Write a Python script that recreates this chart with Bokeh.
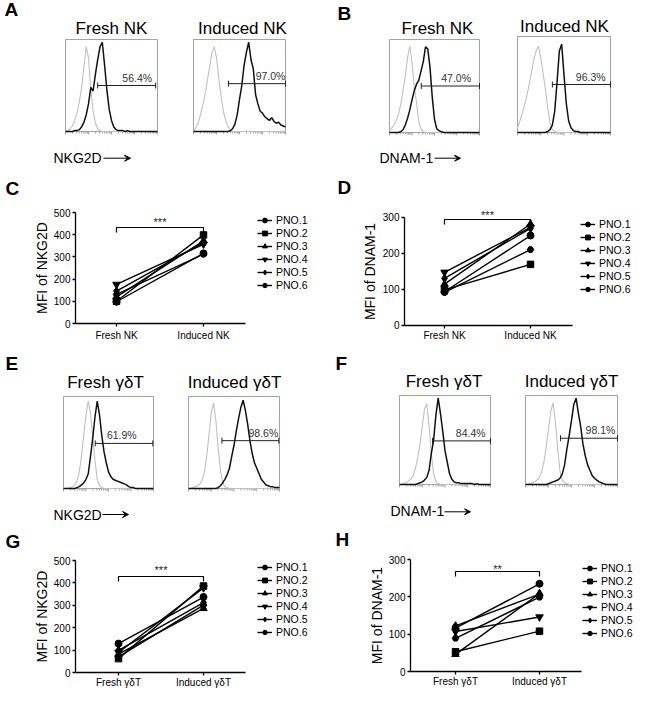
import numpy as np
from bokeh.plotting import figure
from bokeh.models import Range1d, FixedTicker, Legend, LegendItem, Arrow, VeeHead, LinearAxis
from bokeh.layouts import row, column
from bokeh.embed import file_html
from bokeh.resources import INLINE
from bokeh.core.properties import value

FONT = "Liberation Sans"

# ======================= DATA =======================
# flow-cytometry histogram channels (log10 fluorescence, decades)
hist_bins = [0.0, 0.1, 0.2, 0.3, 0.4, 0.5, 0.6, 0.7, 0.8, 0.9,
             1.0, 1.1, 1.2, 1.3, 1.4, 1.5, 1.6, 1.7, 1.8, 1.9,
             2.0, 2.1, 2.2, 2.3, 2.4, 2.5, 2.6, 2.7, 2.8, 2.9,
             3.0, 3.1, 3.2, 3.3, 3.4, 3.5, 3.6, 3.7, 3.8, 3.9,
             4.0]

# A: NKG2D on NK cells (isotype = grey, stained = black), % of max
A_fresh_iso = [0, 1, 3, 6, 12, 20, 32, 48, 70, 92,
               80, 46, 22, 9, 3, 1, 0, 0, 0, 0,
               0, 0, 0, 0, 0, 0, 0, 0, 0, 0,
               0, 0, 0, 0, 0, 0, 0, 0, 0, 0,
               0]
A_fresh_stain = [0, 0, 0, 0, 1, 1, 2, 5, 10, 18,
                 30, 48, 44, 62, 78, 92, 97, 72, 45, 24,
                 12, 5, 2, 1, 1, 1, 0, 1, 0, 0,
                 0, 0, 0, 0, 0, 0, 0, 0, 0, 0,
                 0]
A_induced_iso = [0, 4, 9, 18, 28, 40, 55, 70, 86, 92,
                 80, 58, 38, 22, 12, 5, 2, 0, 0, 0,
                 0, 0, 0, 0, 0, 0, 0, 0, 0, 0,
                 0, 0, 0, 0, 0, 0, 0, 0, 0, 0,
                 0]
A_induced_stain = [0, 0, 0, 0, 0, 0, 0, 0, 0, 0,
                   0, 0, 0, 0, 0, 0, 1, 3, 8, 18,
                   35, 50, 72, 86, 97, 78, 68, 40, 30, 22,
                   20, 16, 14, 12, 15, 11, 9, 10, 7, 6,
                   5]
# B: DNAM-1 on NK cells
B_fresh_iso = [2, 5, 8, 13, 20, 30, 45, 60, 80, 93,
               75, 50, 32, 12, 4, 1, 0, 0, 0, 0,
               0, 0, 0, 0, 0, 0, 0, 0, 0, 0,
               0, 0, 0, 0, 0, 0, 0, 0, 0, 0,
               0]
B_fresh_stain = [0, 0, 0, 0, 0, 1, 3, 8, 15, 24,
                 35, 45, 52, 56, 66, 76, 92, 90, 70, 38,
                 14, 4, 2, 1, 0, 0, 0, 0, 0, 0,
                 0, 0, 0, 0, 0, 0, 0, 0, 0, 0,
                 0]
B_induced_iso = [5, 12, 20, 28, 38, 50, 62, 76, 85, 90,
                 78, 62, 45, 25, 10, 3, 1, 0, 0, 0,
                 0, 0, 0, 0, 0, 0, 0, 0, 0, 0,
                 0, 0, 0, 0, 0, 0, 0, 0, 0, 0,
                 0]
B_induced_stain = [0, 0, 0, 0, 0, 0, 0, 0, 0, 0,
                   0, 0, 0, 1, 3, 8, 22, 52, 85, 92,
                   60, 30, 12, 5, 2, 1, 1, 0, 0, 0,
                   0, 0, 0, 0, 0, 0, 0, 0, 0, 0,
                   0]
# E: NKG2D on gamma-delta T cells
E_fresh_iso = [0, 0, 0, 1, 2, 4, 8, 18, 35, 58,
               80, 95, 82, 55, 30, 10, 3, 1, 0, 0,
               0, 0, 0, 0, 0, 0, 0, 0, 0, 0,
               0, 0, 0, 0, 0, 0, 0, 0, 0, 0,
               0]
E_fresh_stain = [0, 0, 0, 0, 0, 0, 1, 2, 4, 6,
                 10, 16, 35, 55, 78, 95, 80, 58, 40, 28,
                 18, 13, 10, 9, 8, 7, 6, 5, 4, 2,
                 1, 1, 0, 0, 0, 0, 0, 0, 0, 0,
                 0]
E_induced_iso = [0, 0, 1, 2, 3, 5, 9, 18, 35, 58,
                 82, 93, 75, 45, 20, 7, 2, 1, 0, 0,
                 0, 0, 0, 0, 0, 0, 0, 0, 0, 0,
                 0, 0, 0, 0, 0, 0, 0, 0, 0, 0,
                 0]
E_induced_stain = [0, 0, 0, 0, 0, 0, 0, 0, 0, 0,
                   0, 0, 0, 1, 3, 6, 10, 15, 22, 35,
                   47, 62, 76, 88, 96, 85, 70, 52, 38, 28,
                   22, 16, 10, 7, 4, 3, 2, 2, 1, 1,
                   1]
# F: DNAM-1 on gamma-delta T cells
F_fresh_iso = [0, 0, 1, 2, 4, 6, 10, 18, 30, 45,
               65, 85, 91, 65, 35, 12, 3, 1, 0, 0,
               0, 0, 0, 0, 0, 0, 0, 0, 0, 0,
               0, 0, 0, 0, 0, 0, 0, 0, 0, 0,
               0]
F_fresh_stain = [0, 0, 0, 0, 0, 0, 0, 0, 1, 2,
                 3, 5, 8, 16, 35, 50, 78, 97, 80, 60,
                 38, 25, 12, 6, 3, 2, 2, 1, 1, 1,
                 1, 1, 1, 0, 1, 0, 0, 0, 0, 0,
                 0]
F_induced_iso = [0, 0, 1, 2, 3, 5, 8, 14, 25, 42,
                 62, 82, 92, 70, 40, 15, 5, 2, 1, 0,
                 0, 0, 0, 0, 0, 0, 0, 0, 0, 0,
                 0, 0, 0, 0, 0, 0, 0, 0, 0, 0,
                 0]
F_induced_stain = [0, 0, 0, 0, 0, 0, 0, 0, 0, 0,
                   1, 2, 3, 4, 5, 7, 12, 22, 40, 55,
                   72, 90, 97, 80, 65, 45, 32, 22, 16, 10,
                   7, 5, 3, 2, 1, 0, 0, 0, 0, 0,
                   0]

# gates: (start decade, end decade, level in % of max) and gated percentages
A_gates = [(1.40, 3.92, 50), (1.52, 4.00, 52)]
A_pct = ["56.4%", "97.0%"]
B_gates = [(1.41, 4.00, 50), (1.50, 4.00, 50)]
B_pct = ["47.0%", "96.3%"]
E_gates = [(1.41, 3.97, 49), (1.47, 3.97, 52)]
E_pct = ["61.9%", "98.6%"]
F_gates = [(1.45, 4.00, 49), (1.52, 4.00, 52)]
F_pct = ["84.4%", "98.1%"]

nk_titles = ["Fresh NK", "Induced NK"]
gd_titles = ["Fresh \u03b3\u03b4T", "Induced \u03b3\u03b4T"]

# MFI per patient
patients = ["PNO.1", "PNO.2", "PNO.3", "PNO.4", "PNO.5", "PNO.6"]
C_fresh = [98, 100, 120, 176, 146, 131]
C_induced = [316, 399, 372, 357, 364, 312]
D_fresh = [93, 98, 114, 147, 130, 91]
D_induced = [249, 169, 281, 272, 269, 210]
G_fresh = [129, 62, 82, 89, 99, 70]
G_induced = [337, 386, 286, 378, 312, 301]
H_fresh = [116, 53, 46, 107, 122, 89]
H_induced = [235, 108, 209, 146, 207, 199]

nkg2d_yticks = [0, 100, 200, 300, 400, 500]
dnam_yticks = [0, 100, 200, 300]
C_sig, D_sig, G_sig, H_sig = "***", "***", "***", "**"

# ======================= STYLE / LAYOUT =======================
MARKERS = ["circle", "square", "triangle", "inverted_triangle", "diamond", "hex"]
MSIZES = [7, 6.5, 7.5, 7.5, 8.5, 6.5]
D_MIN, D_MAX, Y_MAX = 0.0, 4.0, 100.0
LOG_TICKS = [float(np.log10(m * 10 ** k)) for k in range(4) for m in range(1, 10)] + [4.0]
LOG_MAJOR = [0.0, 1.0, 2.0, 3.0, 4.0]


def add_text(p, x, y, s, size, bold=False, align="left", color="black", **kw):
    p.text(x=[x], y=[y], text=[s], text_font=value(FONT), text_font_size=size,
           text_font_style="bold" if bold else "normal", text_align=align,
           text_baseline="middle", text_color=color, **kw)


def bare_figure(W, H, xr, yr):
    p = figure(width=W, height=H, x_range=xr, y_range=yr,
               x_axis_location=None, y_axis_location=None,
               min_border_left=0, min_border_right=0, min_border_top=0, min_border_bottom=0,
               output_backend="svg", toolbar_location=None)
    p.outline_line_color = None
    p.grid.visible = False
    return p


def hist_block(W, H, letter, letter_pos, marker, marker_pos, arrow_span, boxes):
    p = bare_figure(W, H, Range1d(0, W), Range1d(H, 0))
    add_text(p, letter_pos[0], letter_pos[1], letter, "19px", bold=True)
    add_text(p, marker_pos[0], marker_pos[1], marker, "14px")
    p.add_layout(Arrow(end=VeeHead(size=6, fill_color="black", line_color="black", line_width=1),
                       x_start=arrow_span[0], y_start=arrow_span[2],
                       x_end=arrow_span[1], y_end=arrow_span[2],
                       line_color="black", line_width=1))
    n = len(hist_bins)
    for i, b in enumerate(boxes):
        x0, y0, x1, y1 = b["rect"]
        kx = (D_MAX - D_MIN) / (x1 - x0)
        ky = Y_MAX / (y1 - y0)
        xn, yn = f"bx{i}", f"by{i}"
        p.extra_x_ranges[xn] = Range1d(D_MIN - x0 * kx, D_MIN + (W - x0) * kx)
        p.extra_y_ranges[yn] = Range1d((y1 - H) * ky, y1 * ky)
        kw = dict(x_range_name=xn, y_range_name=yn)
        add_text(p, b["title_pos"][0], b["title_pos"][1], b["title"], "17px", align="center")
        p.quad(left=[D_MIN], right=[D_MAX], bottom=[0], top=[Y_MAX], fill_color=None,
               line_color="#a3a3a3", line_width=1, **kw)
        tl = [(-3 if t in LOG_MAJOR else -2) * ky for t in LOG_TICKS]
        p.segment(x0=LOG_TICKS, y0=[0] * len(LOG_TICKS), x1=LOG_TICKS, y1=tl,
                  line_color="#a3a3a3", line_width=1, **kw)
        iso = b["iso"][:n]
        st = b["stain"][:n]
        p.line(hist_bins[:len(iso)], iso, line_color="#c0c0c0", line_width=1.1, **kw)
        p.line(hist_bins[:len(st)], st, line_color="#111111", line_width=1.5, **kw)
        gs, ge, gl = b["gate"]
        h = 3 * ky
        p.segment(x0=[gs, gs, ge], y0=[gl, gl - h, gl - h], x1=[ge, gs, ge], y1=[gl, gl + h, gl + h],
                  line_color="#222222", line_width=1, **kw)
        add_text(p, b["pct_x"], gl + 8 * ky, b["pct"], "10.5px", align="center",
                 color="#333333", **kw)
    return p


def scatter_block(s, letter, cats, fresh, induced, ylabel, yticks, sig):
    W, H, L, fb = s["W"], s["H"], s["L"], s["fb"]
    kx, ypx, fx = s["kx"], s["ypx"], s["fresh_px"]

    def X(u):  # local pixel x -> data x
        return (u - fx) / kx

    def Y(v):  # local pixel y (top-down) -> data y
        return (fb - v) / ypx

    p = bare_figure(W, H, Range1d(X(0), X(W)), Range1d(Y(H), Y(0)))
    xL = X(L)
    xa = LinearAxis(fixed_location=0, bounds=(xL, X(s["axis_end_px"])),
                    ticker=FixedTicker(ticks=[0, 1]))
    ya = LinearAxis(fixed_location=xL, bounds=(yticks[0], yticks[-1]),
                    ticker=FixedTicker(ticks=yticks))
    for ax in (xa, ya):
        ax.axis_line_color = "black"
        ax.axis_line_width = 1.3
        ax.major_tick_line_color = "black"
        ax.major_tick_line_width = 1.3
        ax.major_tick_in = 0
        ax.major_tick_out = 3
        ax.minor_tick_line_color = None
        ax.major_label_text_font = FONT
        ax.major_label_text_font_size = "10px"
        ax.major_label_text_color = "black"
        ax.major_label_standoff = 2
    xa.major_label_overrides = {0: cats[0], 1: cats[1]}
    xa.major_label_standoff = s["xl_standoff"]
    ya.axis_label = ylabel
    ya.axis_label_text_font = FONT
    ya.axis_label_text_font_size = "14px"
    ya.axis_label_text_font_style = "normal"
    ya.axis_label_text_color = "black"
    ya.axis_label_standoff = s["yl_standoff"]
    p.add_layout(xa, "below")
    p.add_layout(ya, "left")

    add_text(p, X(s["letter"][0]), Y(s["letter"][1]), letter, "19px", bold=True)

    items = []
    for i, name in enumerate(patients):
        lr = p.line([0, 1], [fresh[i], induced[i]], line_color="black", line_width=1.4)
        sr = p.scatter([0, 1], [fresh[i], induced[i]], marker=MARKERS[i], size=MSIZES[i],
                       fill_color="black", line_color="black")
        items.append(LegendItem(label=name, renderers=[lr, sr]))
    yb, yd = Y(s["bracket_px"]), Y(s["bracket_px"] + 5)
    p.line([0, 0, 1, 1], [yd, yb, yb, yd], line_color="black", line_width=1.2)
    add_text(p, 0.5, Y(s["stars_px"]), sig, "11px", align="center", color="#222222")

    leg_h = 6 * 12 + 5 * 1
    leg = Legend(items=items, location=(s["leg_left"], H - (s["leg_top"] + leg_h)),
                 label_text_font=FONT, label_text_font_size="10.5px", label_text_color="black",
                 glyph_width=15, glyph_height=12, label_height=12, label_standoff=4,
                 spacing=1, padding=0, margin=0, border_line_color=None,
                 background_fill_alpha=0)
    p.add_layout(leg)
    return p


def boxes_for(rects, titles, title_pos, isos, stains, gates, pcts, pct_xs):
    return [dict(rect=rects[i], title=titles[i], title_pos=title_pos[i], iso=isos[i],
                 stain=stains[i], gate=gates[i], pct=pcts[i], pct_x=pct_xs[i]) for i in range(2)]


LW, RW = 330, 304          # column widths
H1, H2, H3, H4 = 168, 176, 180, 164   # block heights

pA = hist_block(LW, H1, "A", (4, 9.3), "NKG2D", (53, 157.7), (103, 130, 157.7),
                boxes_for([(65, 39, 157, 131), (193, 39, 285, 131)], nk_titles,
                          [(111, 27.8), (242, 27.8)], [A_fresh_iso, A_induced_iso],
                          [A_fresh_stain, A_induced_stain], A_gates, A_pct, [3.12, 3.35]))
pB = hist_block(RW, H1, "B", (7, 12.7), "DNAM-1", (49, 157.7), (104, 130, 157.7),
                boxes_for([(59, 39, 149, 132), (187, 36, 280, 132)], nk_titles,
                          [(107, 28), (234, 25.5)], [B_fresh_iso, B_induced_iso],
                          [B_fresh_stain, B_induced_stain], B_gates, B_pct, [2.96, 3.15]))
pE = hist_block(LW, H3, "E", (5, 18.5), "NKG2D", (53, 170), (102, 128, 170),
                boxes_for([(63, 52, 153, 144), (188, 52, 279, 144)], gd_titles,
                          [(105, 38), (234, 38)], [E_fresh_iso, E_induced_iso],
                          [E_fresh_stain, E_induced_stain], E_gates, E_pct, [2.59, 3.29]))
pF = hist_block(RW, H3, "F", (5, 18.5), "DNAM-1", (60, 166.5), (114, 140, 167.3),
                boxes_for([(69, 51, 160, 140), (195, 51, 287, 140)], gd_titles,
                          [(113.5, 37.3), (241, 37.3)], [F_fresh_iso, F_induced_iso],
                          [F_fresh_stain, F_induced_stain], F_gates, F_pct, [3.13, 3.26]))

spec_C = dict(W=LW, H=H2, L=75, fb=155, ypx=111 / 500, fresh_px=116, kx=87, axis_end_px=245,
              bracket_px=59, stars_px=53.9, letter=(5, 19.8),
              leg_left=257, leg_top=45.5, yl_standoff=1, xl_standoff=3)
spec_D = dict(W=RW, H=H2, L=74, fb=156.7, ypx=108 / 300, fresh_px=114, kx=86, axis_end_px=242,
              bracket_px=51, stars_px=46.4, letter=(7, 18.8),
              leg_left=250, leg_top=49.5, yl_standoff=2, xl_standoff=2)
spec_G = dict(W=LW, H=H4, L=75, fb=148, ypx=112 / 500, fresh_px=118, kx=85, axis_end_px=245,
              bracket_px=52, stars_px=45.7, letter=(5, 17),
              leg_left=257, leg_top=36.5, yl_standoff=1, xl_standoff=1)
spec_H = dict(W=RW, H=H4, L=80, fb=147, ypx=112 / 300, fresh_px=125, kx=84, axis_end_px=251,
              bracket_px=47, stars_px=44.4, letter=(5, 15),
              leg_left=252, leg_top=37.5, yl_standoff=1, xl_standoff=1)

pC = scatter_block(spec_C, "C", nk_titles, C_fresh, C_induced, "MFI of NKG2D", nkg2d_yticks, C_sig)
pD = scatter_block(spec_D, "D", nk_titles, D_fresh, D_induced, "MFI of DNAM-1", dnam_yticks, D_sig)
pG = scatter_block(spec_G, "G", gd_titles, G_fresh, G_induced, "MFI of NKG2D", nkg2d_yticks, G_sig)
pH = scatter_block(spec_H, "H", gd_titles, H_fresh, H_induced, "MFI of DNAM-1", dnam_yticks, H_sig)

page = row(column(pA, pC, pE, pG), column(pB, pD, pF, pH))
open("out.html", "w").write(file_html(page, INLINE))
